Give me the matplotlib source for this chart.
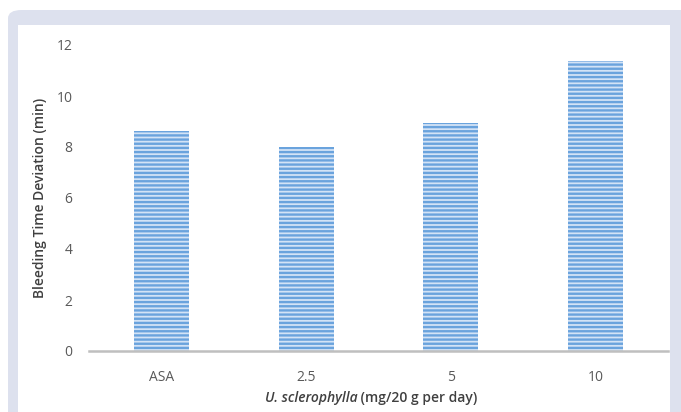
import matplotlib
matplotlib.use("Agg")
import matplotlib.pyplot as plt
from matplotlib.patches import FancyBboxPatch, Rectangle

categories = ["ASA", "2.5", "5", "10"]
values = [8.63, 8.0, 8.94, 11.37]
yticks = [0, 2, 4, 6, 8, 10, 12]

W, H = 681, 412
fig = plt.figure(figsize=(W / 100, H / 100), dpi=100)
fig.patch.set_facecolor("white")

def fx(px):
    return px / W

def fy(py):
    return 1 - py / H

# lavender rounded frame
frame = FancyBboxPatch((fx(8), fy(430)), fx(700 - 8), fy(10) - fy(430),
                       boxstyle="round,pad=0,rounding_size=0.02",
                       transform=fig.transFigure, facecolor="#dde1ee",
                       edgecolor="none", zorder=-2)
fig.patches.append(frame)
inner = Rectangle((fx(18), fy(430)), fx(670 - 18), fy(25) - fy(430),
                  transform=fig.transFigure, facecolor="white",
                  edgecolor="none", zorder=-1)
fig.patches.append(inner)

plt.rcParams["hatch.linewidth"] = 1.7
ax = fig.add_axes([fx(89), fy(351), fx(668 - 89), fy(45) - fy(351)])
ax.set_zorder(1)
ax.set_facecolor("none")
x = list(range(len(categories)))
ax.bar(x, values, width=0.38, facecolor="#d3e3f6", edgecolor="#6aa3dd",
       linewidth=0, hatch="----", zorder=2)
ax.set_xlim(-0.5, len(categories) - 0.5)
ax.set_ylim(0, 12)
ax.set_yticks(yticks)
ax.set_yticklabels([str(t) for t in yticks])
ax.set_xticks(x)
ax.set_xticklabels(categories)
for s in ["top", "right", "left"]:
    ax.spines[s].set_visible(False)
ax.spines["bottom"].set_color("#bfbfbf")
ax.spines["bottom"].set_linewidth(1.8)
ax.tick_params(axis="both", length=0, colors="#595959", labelsize=10)
ax.tick_params(axis="y", pad=12)
ax.tick_params(axis="x", pad=14)
for lab in ax.get_xticklabels() + ax.get_yticklabels():
    lab.set_fontfamily("Open Sans")
    lab.set_color("#595959")

fig.text(fx(40), fy(198), "Bleeding Time Deviation (min)", rotation=90,
         ha="center", va="center", fontsize=10, fontweight="semibold",
         family="Open Sans", color="#404040", zorder=3)

# x label: italic part + normal part
fig.canvas.draw()
r = fig.canvas.get_renderer()
t1 = fig.text(0, fy(398), "U. sclerophylla", fontsize=10, fontstyle="italic",
              fontweight="semibold", family="Open Sans", color="#404040",
              ha="left", va="center", zorder=3)
t2 = fig.text(0, fy(398), " (mg/20 g per day)", fontsize=10,
              fontweight="semibold", family="Open Sans", color="#404040",
              ha="left", va="center", zorder=3)
w1 = t1.get_window_extent(r).width
w2 = t2.get_window_extent(r).width
cx = 371
start = cx - (w1 + w2) / 2
t1.set_x(fx(start))
t2.set_x(fx(start + w1))

fig.savefig("out.png", dpi=100, facecolor="white")
